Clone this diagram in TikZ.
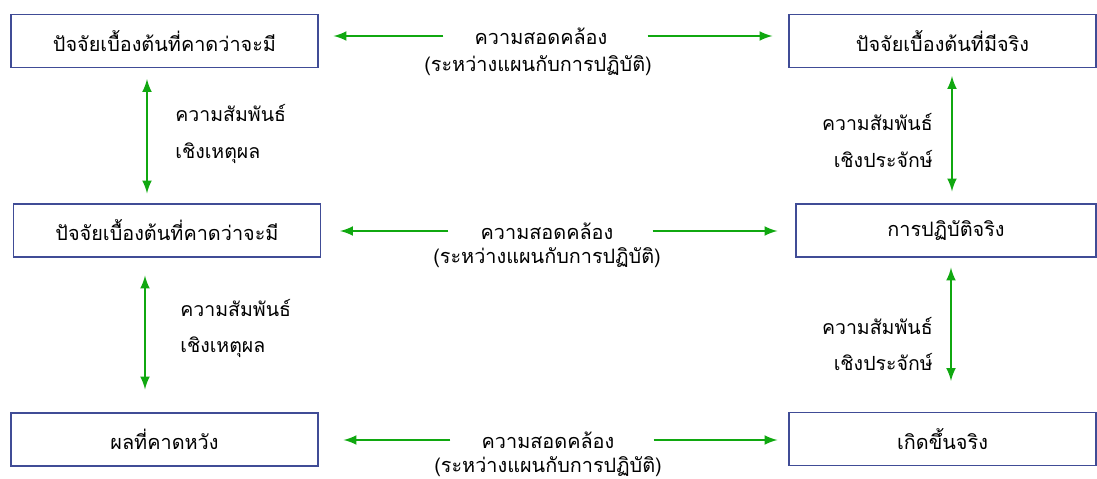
\documentclass[tikz,border=0pt]{standalone}
\usepackage{fontspec}
\newfontfamily\thaifont[Script=Thai]{Loma}
\usetikzlibrary{arrows, positioning, calc}
\definecolor{boxblue}{RGB}{64,76,150}
\definecolor{linkgreen}{RGB}{16,168,16}
\tikzset{
  box/.style={draw=boxblue, line width=0.7pt, minimum width=6.14cm, minimum height=1.06cm, inner sep=0pt, font=\thaifont\fontsize{11.3}{14}\selectfont},
  txt/.style={font=\thaifont\fontsize{11.3}{14}\selectfont, inner sep=0pt},
  lbl/.style={font=\thaifont\fontsize{11.1}{21}\selectfont, inner sep=0pt},
  vlink/.style={linkgreen, line width=1.5pt, latex-latex},
  hlink/.style={linkgreen, line width=1.5pt, -latex},
}
\begin{document}
\begin{tikzpicture}[x=0.02cm, y=-0.02cm]
        \useasboundingbox (0,0) rectangle (1097,479);

        % boxes, plan side
        \node[box] (b1) at (164.5,41) {ปัจจัยเบื้องต้นที่คาดว่าจะมี};
        \node[box] (b2) at (167,230.5) {ปัจจัยเบื้องต้นที่คาดว่าจะมี};
        \node[box] (b3) at (164.5,439.5) {ผลที่คาดหวัง};
        % boxes, actual side
        \node[box] (r1) at (942.5,41) {ปัจจัยเบื้องต้นที่มีจริง};
        \node[box, minimum width=6cm] (r2) at (946,230.5) {การปฏิบัติจริง};
        \node[box] (r3) at (942.5,439) {เกิดขึ้นจริง};

        % middle texts
        \node[txt] (t1) at (541,36) {ความสอดคล้อง};
        \node[txt] (u1) at (538,66) {(ระหว่างแผนกับการปฏิบัติ)};
        \node[txt] (t2) at (547,231) {ความสอดคล้อง};
        \node[txt] (u2) at (547,258) {(ระหว่างแผนกับการปฏิบัติ)};
        \node[txt] (t3) at (548,440) {ความสอดคล้อง};
        \node[txt] (u3) at (548,467) {(ระหว่างแผนกับการปฏิบัติ)};

        \draw[hlink, shorten <=0.62cm, shorten >=0.3cm] (t1.west) -- (t1.west -| b1.east);
        \draw[hlink, shorten <=0.8cm, shorten >=0.32cm] (t1.east) -- (t1.east -| r1.west);
        \draw[hlink, shorten <=0.64cm, shorten >=0.38cm] (t2.west) -- (t2.west -| b2.east);
        \draw[hlink, shorten <=0.78cm, shorten >=0.36cm] (t2.east) -- (t2.east -| r2.west);
        \draw[hlink, shorten <=0.62cm, shorten >=0.5cm] (t3.west) -- (t3.west -| b3.east);
        \draw[hlink, shorten <=0.78cm, shorten >=0.22cm] (t3.east) -- (t3.east -| r3.west);

        % side labels
        \node[lbl, align=left, anchor=west] (l1) at (175,134) {ความสัมพันธ์\\เชิงเหตุผล};
        \node[lbl, align=left, anchor=west] (l2) at (180,328.5) {ความสัมพันธ์\\เชิงเหตุผล};
        \node[lbl, align=right, anchor=east] (k1) at (933,140.5) {ความสัมพันธ์\\เชิงประจักษ์};
        \node[lbl, align=right, anchor=east] (k2) at (933,344) {ความสัมพันธ์\\เชิงประจักษ์};

        \draw[vlink, shorten <=0.22cm, shorten >=0.2cm] ([xshift=-0.35cm]b1.south) -- ([xshift=-0.35cm]b1.south |- b2.north);
        \draw[vlink, shorten <=0.36cm, shorten >=0.46cm] ([xshift=-0.44cm]b2.south) -- ([xshift=-0.44cm]b2.south |- b3.north);
        \draw[vlink, shorten <=0.16cm, shorten >=0.24cm] ([xshift=0.19cm]r1.south) -- ([xshift=0.19cm]r1.south |- r2.north);
        \draw[vlink, shorten <=0.2cm, shorten >=0.62cm] ([xshift=0.1cm]r2.south) -- ([xshift=0.1cm]r2.south |- r3.north);

      \end{tikzpicture}
\end{document}
